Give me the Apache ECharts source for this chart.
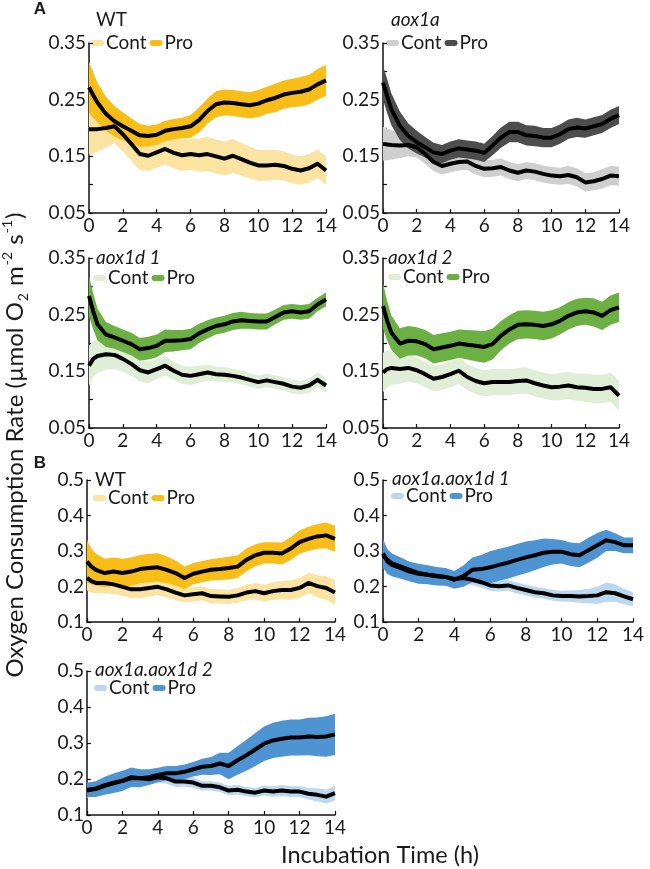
<!DOCTYPE html>
<html><head><meta charset="utf-8">
<script src="https://cdn.jsdelivr.net/npm/echarts@6/dist/echarts.min.js"></script>
<style>html,body{margin:0;padding:0;background:#fff}#c{width:650px;height:869px}</style>
</head><body><div id="c"></div>
<script>
const T = [0,0.25,0.5,1,1.5,2,2.5,3,3.5,4,4.5,5,5.5,6,6.5,7,7.5,8,8.5,9,9.5,10,10.5,11,11.5,12,12.5,13,13.5,14];
const xTickLabels = ['0','2','4','6','8','10','12','14'];
const yTickLabelsA = ['0.05','0.15','0.25','0.35'];
const yTickLabelsB = ['0.1','0.2','0.3','0.4','0.5'];
const titles = ['WT','aox1a','aox1d 1','aox1d 2','WT','aox1a.aox1d 1','aox1a.aox1d 2'];
const legendNames = ['Cont','Pro'];

// Panel A – WT
const aWT_cont = [0.198,0.198,0.198,0.2,0.203,0.189,0.172,0.154,0.151,0.157,0.163,0.156,0.152,0.154,0.152,0.154,0.15,0.146,0.151,0.145,0.139,0.134,0.134,0.135,0.133,0.128,0.125,0.129,0.137,0.125];
const aWT_contSd = [0.045,0.042,0.04,0.035,0.03,0.03,0.03,0.028,0.027,0.027,0.027,0.027,0.028,0.028,0.029,0.03,0.03,0.03,0.03,0.029,0.028,0.027,0.027,0.026,0.026,0.025,0.025,0.025,0.025,0.025];
const aWT_pro = [0.272,0.258,0.245,0.225,0.212,0.203,0.195,0.187,0.186,0.188,0.195,0.198,0.2,0.203,0.214,0.23,0.242,0.245,0.244,0.242,0.24,0.243,0.249,0.253,0.259,0.262,0.264,0.268,0.277,0.284];
const aWT_proSd = [0.045,0.04,0.035,0.03,0.027,0.025,0.022,0.02,0.018,0.018,0.018,0.018,0.018,0.02,0.022,0.022,0.023,0.023,0.023,0.023,0.023,0.024,0.024,0.025,0.025,0.025,0.026,0.026,0.027,0.027];
// Panel A – aox1a
const aA_cont = [0.172,0.171,0.17,0.169,0.17,0.166,0.154,0.14,0.133,0.137,0.14,0.141,0.133,0.128,0.129,0.131,0.125,0.121,0.125,0.123,0.119,0.116,0.115,0.117,0.113,0.104,0.106,0.11,0.116,0.115];
const aA_contSd = [0.03,0.028,0.026,0.022,0.02,0.018,0.017,0.016,0.015,0.015,0.015,0.015,0.015,0.015,0.015,0.015,0.015,0.015,0.015,0.015,0.015,0.015,0.015,0.016,0.016,0.016,0.016,0.017,0.017,0.017];
const aA_pro = [0.28,0.256,0.233,0.204,0.186,0.175,0.166,0.157,0.154,0.16,0.164,0.162,0.16,0.156,0.169,0.183,0.193,0.193,0.187,0.186,0.183,0.183,0.189,0.198,0.201,0.199,0.203,0.207,0.216,0.223];
const aA_proSd = [0.03,0.03,0.028,0.025,0.022,0.02,0.018,0.017,0.016,0.016,0.016,0.016,0.016,0.016,0.017,0.018,0.018,0.018,0.018,0.018,0.017,0.017,0.017,0.017,0.017,0.016,0.016,0.016,0.016,0.016];
// Panel A – aox1d 1
const aD1_cont = [0.16,0.172,0.177,0.18,0.179,0.172,0.163,0.152,0.148,0.154,0.16,0.151,0.144,0.142,0.145,0.148,0.145,0.144,0.142,0.139,0.135,0.131,0.134,0.131,0.128,0.123,0.121,0.125,0.135,0.125];
const aD1_contSd = [0.035,0.032,0.03,0.027,0.025,0.023,0.021,0.02,0.019,0.018,0.017,0.016,0.016,0.016,0.015,0.014,0.013,0.013,0.012,0.012,0.012,0.012,0.012,0.012,0.012,0.012,0.012,0.013,0.013,0.013];
const aD1_pro = [0.283,0.256,0.233,0.215,0.21,0.204,0.198,0.189,0.191,0.195,0.204,0.204,0.205,0.207,0.217,0.224,0.23,0.233,0.238,0.24,0.239,0.238,0.238,0.246,0.254,0.256,0.254,0.256,0.268,0.277];
const aD1_proSd = [0.035,0.032,0.028,0.022,0.02,0.02,0.02,0.02,0.02,0.02,0.02,0.019,0.018,0.018,0.017,0.016,0.015,0.015,0.015,0.015,0.014,0.014,0.014,0.013,0.013,0.013,0.013,0.013,0.012,0.012];
// Panel A – aox1d 2
const aD2_cont = [0.148,0.154,0.156,0.154,0.156,0.152,0.145,0.137,0.14,0.145,0.151,0.14,0.133,0.129,0.131,0.131,0.131,0.133,0.134,0.129,0.125,0.122,0.123,0.125,0.122,0.121,0.119,0.119,0.122,0.107];
const aD2_contSd = [0.035,0.032,0.03,0.026,0.024,0.023,0.023,0.023,0.023,0.023,0.023,0.023,0.023,0.023,0.023,0.023,0.023,0.023,0.023,0.023,0.023,0.023,0.024,0.024,0.024,0.025,0.025,0.025,0.026,0.026];
const aD2_pro = [0.265,0.239,0.218,0.199,0.204,0.203,0.198,0.189,0.192,0.195,0.199,0.197,0.195,0.193,0.198,0.213,0.224,0.232,0.233,0.232,0.23,0.233,0.239,0.248,0.254,0.256,0.254,0.248,0.258,0.263];
const aD2_proSd = [0.04,0.035,0.03,0.027,0.026,0.025,0.025,0.025,0.025,0.025,0.025,0.026,0.027,0.028,0.027,0.026,0.025,0.025,0.025,0.025,0.025,0.025,0.024,0.024,0.024,0.024,0.025,0.025,0.026,0.026];
// Panel B – WT
const bWT_cont = [0.224,0.215,0.21,0.21,0.206,0.199,0.192,0.192,0.196,0.199,0.192,0.183,0.175,0.178,0.181,0.173,0.172,0.171,0.175,0.183,0.187,0.181,0.187,0.19,0.19,0.196,0.21,0.201,0.196,0.183];
const bWT_contSd = [0.035,0.032,0.03,0.028,0.027,0.026,0.025,0.025,0.024,0.023,0.022,0.021,0.02,0.02,0.02,0.02,0.02,0.02,0.021,0.022,0.023,0.024,0.025,0.026,0.027,0.028,0.029,0.031,0.033,0.035];
const bWT_pro = [0.27,0.256,0.247,0.238,0.242,0.238,0.242,0.249,0.252,0.254,0.247,0.238,0.224,0.236,0.242,0.247,0.249,0.252,0.256,0.275,0.288,0.295,0.295,0.293,0.307,0.325,0.334,0.341,0.344,0.334];
const bWT_proSd = [0.06,0.05,0.045,0.04,0.04,0.04,0.04,0.04,0.04,0.04,0.038,0.035,0.032,0.03,0.03,0.03,0.031,0.032,0.032,0.032,0.031,0.03,0.03,0.031,0.032,0.033,0.034,0.035,0.036,0.037];
// Panel B – aox1a.aox1d 1
const bD1_cont = [0.288,0.275,0.265,0.256,0.247,0.238,0.233,0.23,0.227,0.221,0.224,0.219,0.212,0.203,0.201,0.203,0.196,0.19,0.184,0.181,0.175,0.173,0.173,0.172,0.173,0.175,0.184,0.181,0.172,0.164];
const bD1_contSd = [0.03,0.025,0.02,0.017,0.015,0.015,0.015,0.015,0.015,0.015,0.015,0.015,0.015,0.015,0.015,0.015,0.015,0.015,0.015,0.015,0.015,0.015,0.016,0.018,0.02,0.024,0.027,0.025,0.022,0.02];
const bD1_pro = [0.293,0.27,0.261,0.252,0.242,0.236,0.233,0.229,0.227,0.219,0.229,0.247,0.249,0.254,0.261,0.267,0.275,0.282,0.288,0.295,0.298,0.298,0.291,0.288,0.302,0.316,0.33,0.325,0.316,0.316];
const bD1_proSd = [0.04,0.035,0.032,0.03,0.028,0.028,0.027,0.026,0.025,0.025,0.03,0.035,0.04,0.045,0.045,0.045,0.045,0.045,0.042,0.04,0.036,0.033,0.033,0.034,0.035,0.035,0.03,0.025,0.022,0.022];
// Panel B – aox1a.aox1d 2
const bD2_cont = [0.168,0.171,0.174,0.183,0.19,0.195,0.202,0.202,0.199,0.205,0.202,0.193,0.193,0.19,0.181,0.181,0.177,0.168,0.17,0.165,0.162,0.168,0.165,0.168,0.165,0.165,0.159,0.156,0.151,0.161];
const bD2_contSd = [0.02,0.02,0.02,0.018,0.017,0.016,0.015,0.015,0.015,0.015,0.015,0.015,0.014,0.014,0.013,0.013,0.013,0.013,0.013,0.013,0.013,0.014,0.014,0.015,0.015,0.015,0.016,0.018,0.019,0.02];
const bD2_pro = [0.17,0.171,0.172,0.181,0.188,0.195,0.205,0.202,0.205,0.211,0.216,0.216,0.22,0.227,0.234,0.236,0.243,0.236,0.252,0.266,0.282,0.298,0.307,0.312,0.315,0.315,0.318,0.317,0.318,0.324];
const bD2_proSd = [0.02,0.021,0.022,0.025,0.027,0.028,0.027,0.025,0.022,0.02,0.02,0.02,0.02,0.02,0.022,0.025,0.03,0.037,0.04,0.043,0.046,0.048,0.049,0.05,0.05,0.05,0.052,0.054,0.056,0.057];

const FONT = 'Lato';
const TXT = '#1a1a1a';
const COL = {
  wt:  ['#FBE3A2', '#F9BD18'],
  a:   ['#CFCFCF', '#4D4D4D'],
  d:   ['#E0EED8', '#6CB043'],
  ad:  ['#BDD7EE', '#4F94D2']
};

const panels = [
  {cont:aWT_cont, contSd:aWT_contSd, pro:aWT_pro, proSd:aWT_proSd, col:COL.wt, kind:'A', italic:false,
   grid:{left:89, top:43, width:237, height:170}, title:[96,20], legend:[91,43]},
  {cont:aA_cont, contSd:aA_contSd, pro:aA_pro, proSd:aA_proSd, col:COL.a, kind:'A', italic:true,
   grid:{left:383, top:43, width:236, height:170}, title:[391,20], legend:[386,43]},
  {cont:aD1_cont, contSd:aD1_contSd, pro:aD1_pro, proSd:aD1_proSd, col:COL.d, kind:'A', italic:true,
   grid:{left:89, top:258, width:237, height:170}, title:[96,258], legend:[93,278]},
  {cont:aD2_cont, contSd:aD2_contSd, pro:aD2_pro, proSd:aD2_proSd, col:COL.d, kind:'A', italic:true,
   grid:{left:383, top:258, width:236, height:170}, title:[388,258], legend:[388,277]},
  {cont:bWT_cont, contSd:bWT_contSd, pro:bWT_pro, proSd:bWT_proSd, col:COL.wt, kind:'B', italic:false,
   grid:{left:87, top:480, width:248, height:142}, title:[95,480], legend:[93,498]},
  {cont:bD1_cont, contSd:bD1_contSd, pro:bD1_pro, proSd:bD1_proSd, col:COL.ad, kind:'B', italic:true,
   grid:{left:383, top:480, width:250, height:142}, title:[392,479], legend:[391,496]},
  {cont:bD2_cont, contSd:bD2_contSd, pro:bD2_pro, proSd:bD2_proSd, col:COL.ad, kind:'B', italic:true,
   grid:{left:87, top:671, width:248, height:144}, title:[95,670], legend:[94,688]}
];

const grids = [], xAxes = [], yAxes = [], series = [], graphics = [];
const fmtNum = v => String(+(+v).toFixed(2));

panels.forEach((p, i) => {
  grids.push(Object.assign({containLabel:false, outerBoundsMode:'none'}, p.grid));
  xAxes.push({
    type:'value', gridIndex:i, min:0, max:14, interval:2,
    axisLine:{show:true, onZero:false, lineStyle:{color:'#111', width:1.5}},
    axisTick:{show:true, inside:true, length:4, lineStyle:{color:'#111', width:1.2}},
    splitLine:{show:false},
    axisLabel:{fontFamily:FONT, fontSize:19, color:TXT, margin:3,
      formatter: v => xTickLabels.includes(fmtNum(v)) ? fmtNum(v) : ''}
  });
  const isA = p.kind === 'A';
  const labs = isA ? yTickLabelsA : yTickLabelsB;
  yAxes.push({
    type:'value', gridIndex:i,
    min: isA ? 0.05 : 0.1, max: isA ? 0.35 : 0.5, interval: isA ? 0.05 : 0.1,
    axisLine:{show:true, onZero:false, lineStyle:{color:'#111', width:1.5}},
    axisTick:{show:true, inside:true, length:4, lineStyle:{color:'#111', width:1.2}},
    splitLine:{show:false},
    axisLabel:{fontFamily:FONT, fontSize:19, color:TXT, margin:3,
      formatter: v => {const s = isA ? (+v).toFixed(2) : fmtNum(v); return labs.includes(s) ? s : '';}}
  });
  const band = (mean, sd, name, color) => {
    series.push({type:'custom', name:name, xAxisIndex:i, yAxisIndex:i, silent:true, clip:true, z:1,
      data:[[T[0], mean[0]]],
      renderItem:(params, api) => {
        if (params.dataIndex !== 0) return null;
        const up = T.map((t, k) => api.coord([t, mean[k] + sd[k]]));
        const lo = T.map((t, k) => api.coord([t, mean[k] - sd[k]])).reverse();
        return {type:'polygon', shape:{points:up.concat(lo)}, style:{fill:color}};
      }});
  };
  band(p.cont, p.contSd, legendNames[0], p.col[0]);
  band(p.pro, p.proSd, legendNames[1], p.col[1]);
  [p.cont, p.pro].forEach((m, j) => {
    series.push({type:'line', name:'mean'+j+'_'+i, xAxisIndex:i, yAxisIndex:i,
      data:T.map((t, k) => [t, m[k]]), symbol:'none',
      lineStyle:{color:'#000', width:4, join:'round'}, silent:true, z:3});
  });
  graphics.push({type:'text', x:p.legend[0], y:p.legend[1],
    style:{text:'{mc|}{t|' + legendNames[0] + '}{mp|}{t|' + legendNames[1] + '}',
      fontFamily:FONT, fontSize:19, fill:TXT, verticalAlign:'middle', align:'left',
      rich:{
        mc:{width:13, height:6, backgroundColor:p.col[0], borderRadius:3},
        mp:{width:13, height:6, backgroundColor:p.col[1], borderRadius:3},
        t:{fontFamily:FONT, fontSize:19, fill:TXT, padding:[0,3,0,2]}
      }}});
  graphics.push({type:'text', x:p.title[0], y:p.title[1],
    style:{text:titles[i], font:(p.italic ? 'italic ' : '') + '19px ' + FONT, fill:TXT,
      align:'left', verticalAlign:'middle'}});
});

graphics.push({type:'text', x:40, y:9, style:{text:'A', font:'bold 17px "Liberation Sans"', fill:TXT, align:'center', verticalAlign:'middle'}});
graphics.push({type:'text', x:40, y:463, style:{text:'B', font:'bold 17px "Liberation Sans"', fill:TXT, align:'center', verticalAlign:'middle'}});
graphics.push({type:'text', x:380, y:855, style:{text:'Incubation Time (h)', font:'23.5px ' + FONT, fill:TXT, align:'center', verticalAlign:'middle'}});
graphics.push({type:'text', x:15, y:445, rotation:Math.PI/2,
  style:{text:'Oxygen Consumption Rate (\u00B5mol O{sub|2} m{sup|-2} s{sup|-1})',
    fontFamily:FONT, fontSize:24, fill:TXT, align:'center', verticalAlign:'middle', lineHeight:30,
    rich:{sub:{fontFamily:FONT, fontSize:14, fill:TXT, verticalAlign:'bottom', lineHeight:14, padding:[0,1,0,1]},
          sup:{fontFamily:FONT, fontSize:14, fill:TXT, verticalAlign:'top', lineHeight:14, padding:[0,1,0,1]}}}});

const chart = echarts.init(document.getElementById('c'), null, {renderer:'canvas'});
chart.setOption({
  animation:false, backgroundColor:'#fff',
  grid:grids, xAxis:xAxes, yAxis:yAxes, series:series, graphic:graphics
});
</script></body></html>
